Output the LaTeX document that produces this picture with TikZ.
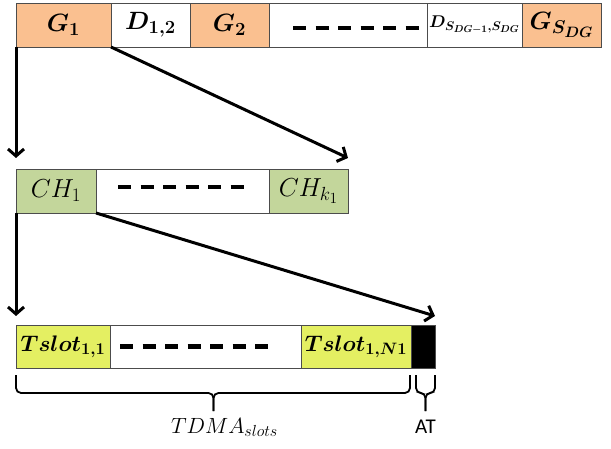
\RequirePackage{fix-cm}
\documentclass[tikz,border=0pt]{standalone}
\usepackage{fontspec}
\newfontfamily\atfont{Carlito}
\usetikzlibrary{positioning,calc,arrows.meta}

\DeclareMathSizes{25}{25}{18.5}{15}
\DeclareMathSizes{26}{26}{19}{15.5}
\DeclareMathSizes{22.5}{22.5}{16.5}{13.5}
\DeclareMathSizes{17}{17}{12.5}{10}
\DeclareMathSizes{22}{22}{16}{13}

\definecolor{slotorange}{HTML}{FAC090}
\definecolor{slotgreen}{HTML}{C3D69B}
\definecolor{slotyellow}{HTML}{E4EF62}

\newcommand{\boldslotfont}{\fontsize{25}{29}\selectfont\boldmath}
\newcommand{\tslotfont}{\fontsize{22.5}{27}\selectfont\boldmath}
\newcommand{\smallslotfont}{\fontsize{17}{21}\selectfont\boldmath}
\newcommand{\plainslotfont}{\fontsize{26}{30}\selectfont}

\tikzset{
  slot/.style={draw=black!70, line width=0.9pt, inner sep=0pt, outer sep=0pt,
    minimum height=44pt},
  gslot/.style={slot, fill=slotorange, font=\boldslotfont},
  dslot/.style={slot, fill=white, font=\boldslotfont},
  chslot/.style={slot, fill=slotgreen, font=\plainslotfont},
  tslot/.style={slot, fill=slotyellow, font=\tslotfont, minimum height=43pt},
  atslot/.style={slot, fill=black, minimum height=43pt},
  dashline/.style={line width=4.5pt, dash pattern=on 13pt off 9.5pt},
  arrowline/.style={->, line width=3pt},
  bracket/.style={line width=1.8pt, rounded corners=5pt},
}

\begin{document}
\begin{tikzpicture}[x=1pt, y=-1pt, >={Straight Barb[length=7pt,width=16pt]}]
\useasboundingbox (0,0) rectangle (611,449);

% group row
\node[gslot, minimum width=95pt, anchor=north west] (G1) at (16,3) {$G_1$};
\node[dslot, minimum width=79pt, right=0pt of G1] (D12) {$D_{1,2}$};
\node[gslot, minimum width=79pt, right=0pt of D12] (G2) {$G_2$};
\node[dslot, minimum width=158pt, right=0pt of G2] (gdots) {};
\node[dslot, minimum width=95pt, right=0pt of gdots, font=\smallslotfont] (Dlast) {$D_{S_{DG-1},S_{DG}}$};
\node[gslot, minimum width=79pt, right=0pt of Dlast] (Glast) {$G_{S_{DG}}$};

% cluster row
\node[chslot, minimum width=80pt, anchor=north west] (CH1) at (16,169) {$CH_1$};
\node[dslot, minimum width=173pt, right=0pt of CH1] (chdots) {};
\node[chslot, minimum width=79pt, right=0pt of chdots] (CHk) {$CH_{k_1}$};

% slot row
\node[tslot, minimum width=94pt, anchor=north west] (T11) at (16,325) {$Tslot_{1,1}$};
\node[dslot, minimum width=191pt, minimum height=43pt, right=0pt of T11] (tdots) {};
\node[tslot, minimum width=110pt, right=0pt of tdots] (T1N) {$Tslot_{1,N1}$};
\node[atslot, minimum width=24pt, right=0pt of T1N] (AT) {};

% dashes
\draw[dashline] ([xshift=24pt,yshift=-3pt]gdots.west) -- ++(126,0);
\draw[dashline] ([xshift=22pt,yshift=4pt]chdots.west) -- ++(126,0);
\draw[dashline] ([xshift=10pt]tdots.west) -- ++(148,0);

% arrows
\draw[arrowline] (G1.south west) -- ([yshift=11pt]CH1.north west);
\draw[arrowline] (G1.south east) -- ([yshift=11pt]CHk.north east);
\draw[arrowline] (CH1.south west) -- ([yshift=9pt]T11.north west);
\draw[arrowline] (CH1.south east) -- ([yshift=9pt]AT.north east);

% braces
\coordinate (tmid) at ($(T11.south west)!0.5!(T1N.south east)$);
\draw[bracket] ([yshift=-7pt]T11.south west) |- ([yshift=-25pt]tmid) -- ([yshift=-43pt]tmid);
\draw[bracket] ([xshift=-1pt,yshift=-7pt]T1N.south east) |- ([yshift=-25pt]tmid) -- ([yshift=-43pt]tmid);
\node[anchor=base, font=\fontsize{22}{26}\selectfont] (tdmalbl) at ([xshift=11pt,yshift=-65pt]tmid) {$TDMA_{slots}$};

\coordinate (amid) at ($([xshift=5pt]AT.south west)!0.5!(AT.south east)$);
\draw[bracket] ([xshift=5pt,yshift=-7pt]AT.south west) |- ([yshift=-25pt]amid) -- ([yshift=-43pt]amid);
\draw[bracket] ([yshift=-7pt]AT.south east) |- ([yshift=-25pt]amid) -- ([yshift=-43pt]amid);
\node[anchor=base, font=\atfont\fontsize{21}{25}\selectfont] (atlbl) at ([yshift=-65pt]amid) {AT};
\end{tikzpicture}
\end{document}
